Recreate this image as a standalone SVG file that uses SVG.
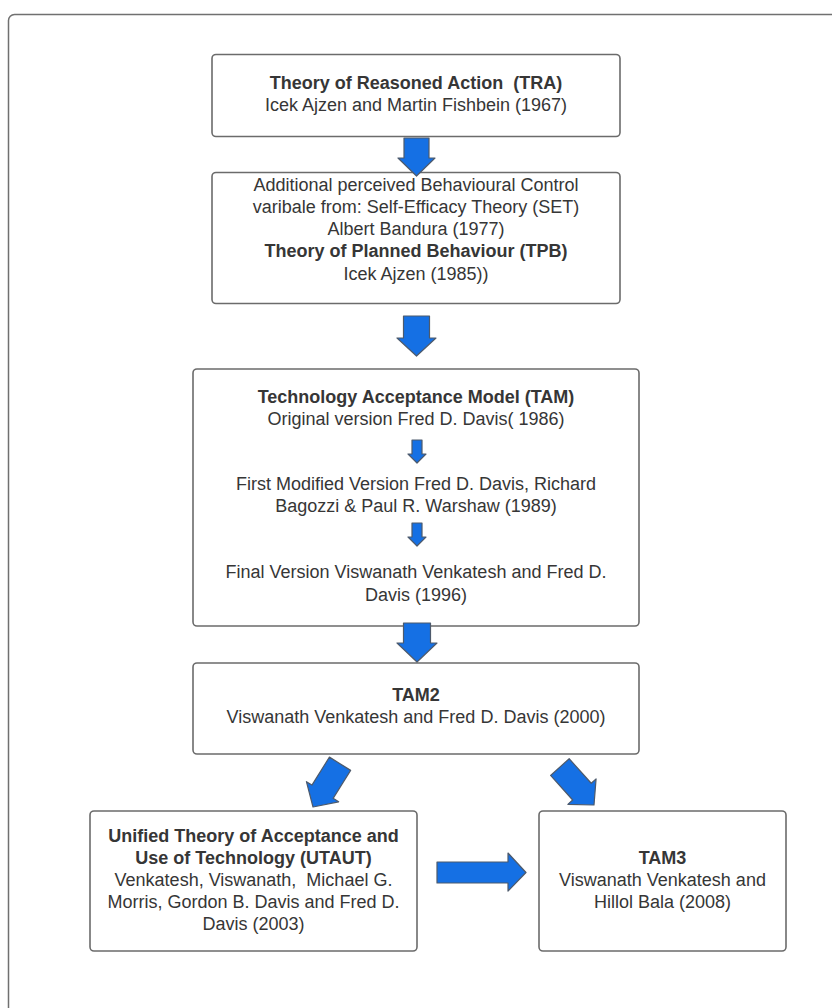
<svg xmlns="http://www.w3.org/2000/svg" width="832" height="1008" viewBox="0 0 832 1008">
  <defs>
    <style>
      .frame { fill: #ffffff; stroke: #707070; stroke-width: 1.5; }
      .box { fill: #ffffff; stroke: #6b6b6b; stroke-width: 1.6; }
      .arrow { fill: #1570e4; stroke: #4d5a6c; stroke-width: 1.2; stroke-linejoin: round; }
      text { font-family: "Liberation Sans", Arial, sans-serif; font-size: 18px; fill: #363636; text-anchor: middle; white-space: pre; }
      .b { font-weight: bold; }
    </style>
    <!-- block arrow pointing down, tip at origin -->
    <path id="bigArrow" d="M -12.5 -51 L 12.5 -51 L 12.5 -18 L 19 -18 L 0 0 L -19 -18 L -12.5 -18 Z"/>
  </defs>

  <rect class="frame" x="8.5" y="14.5" width="840" height="1010" rx="6"/>

  <g id="node-tra">
    <rect class="box" x="212" y="54.5" width="408" height="82" rx="4"/>
    <text x="416" y="89" class="b">Theory of Reasoned Action  (TRA)</text>
    <text x="416" y="111">Icek Ajzen and Martin Fishbein (1967)</text>
  </g>

  <g id="node-tpb">
    <rect class="box" x="212" y="172.5" width="408" height="131" rx="4"/>
    <text x="416" y="191">Additional perceived Behavioural Control</text>
    <text x="416" y="213">varibale from: Self-Efficacy Theory (SET)</text>
    <text x="416" y="235">Albert Bandura (1977)</text>
    <text x="416" y="257" class="b">Theory of Planned Behaviour (TPB)</text>
    <text x="416" y="280">Icek Ajzen (1985))</text>
  </g>

  <g id="node-tam">
    <rect class="box" x="193" y="369" width="446" height="257" rx="4"/>
    <text x="416" y="403" class="b">Technology Acceptance Model (TAM)</text>
    <text x="416" y="425">Original version Fred D. Davis( 1986)</text>
    <path class="arrow" d="M 412 440 L 422 440 L 422 454 L 426 454 L 417 463 L 408 454 L 412 454 Z"/>
    <text x="416" y="490">First Modified Version Fred D. Davis, Richard</text>
    <text x="416" y="512">Bagozzi &amp; Paul R. Warshaw (1989)</text>
    <path class="arrow" d="M 412 523 L 422 523 L 422 537 L 426 537 L 417 546 L 408 537 L 412 537 Z"/>
    <text x="416" y="578">Final Version Viswanath Venkatesh and Fred D.</text>
    <text x="416" y="601">Davis (1996)</text>
  </g>

  <g id="node-tam2">
    <rect class="box" x="193" y="663" width="446" height="91" rx="4"/>
    <text x="416" y="701" class="b">TAM2</text>
    <text x="416" y="723">Viswanath Venkatesh and Fred D. Davis (2000)</text>
  </g>

  <g id="node-utaut">
    <rect class="box" x="90" y="811" width="327" height="140" rx="4"/>
    <text x="253.5" y="842" class="b">Unified Theory of Acceptance and</text>
    <text x="253.5" y="864" class="b">Use of Technology (UTAUT)</text>
    <text x="253.5" y="886">Venkatesh, Viswanath,  Michael G.</text>
    <text x="253.5" y="908">Morris, Gordon B. Davis and Fred D.</text>
    <text x="253.5" y="930">Davis (2003)</text>
  </g>

  <g id="node-tam3">
    <rect class="box" x="539" y="811" width="247" height="140" rx="4"/>
    <text x="662.5" y="864" class="b">TAM3</text>
    <text x="662.5" y="886">Viswanath Venkatesh and</text>
    <text x="662.5" y="908">Hillol Bala (2008)</text>
  </g>

  <g id="connectors">
    <path class="arrow" d="M 404 138 L 429 138 L 429 158 L 435 158 L 416.5 176 L 398 158 L 404 158 Z"/>
    <path class="arrow" d="M 403.5 316 L 429.5 316 L 429.5 338 L 436 338 L 416.5 356 L 397 338 L 403.5 338 Z"/>
    <path class="arrow" d="M 403.5 623 L 430.5 623 L 430.5 643 L 437 643 L 417 662 L 397 643 L 403.5 643 Z"/>
    <use href="#bigArrow" class="arrow" transform="translate(313,807) rotate(32)"/>
    <use href="#bigArrow" class="arrow" transform="translate(594,805) rotate(-42)"/>
    <path class="arrow" d="M 437 862 L 508 862 L 508 853 L 526 872.5 L 508 891 L 508 883 L 437 883 Z"/>
  </g>
</svg>
